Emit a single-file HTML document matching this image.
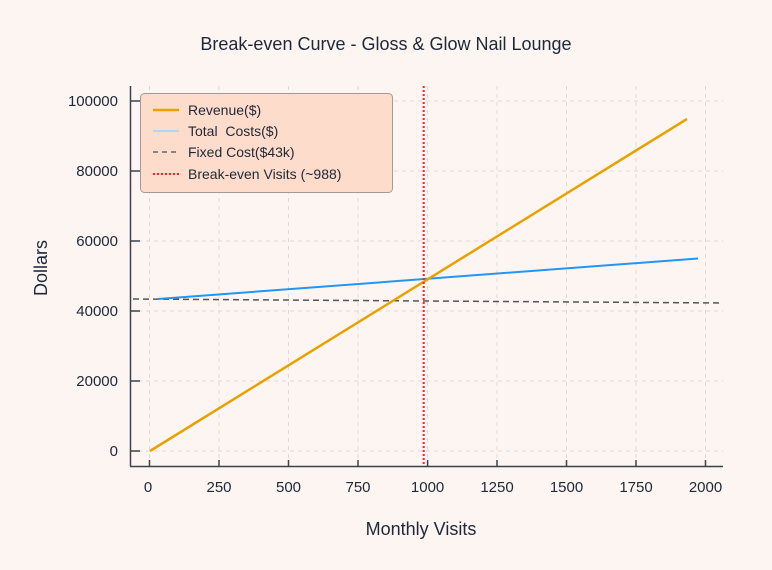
<!DOCTYPE html>
<html><head><style>body{margin:0;background:#fdf5f2}</style></head><body>
<svg width="772" height="565" xmlns="http://www.w3.org/2000/svg" font-family="Liberation Sans, sans-serif">
<rect width="772" height="565" fill="#fdf5f2"/>
<text x="386" y="50" text-anchor="middle" font-size="18" fill="#1e2838">Break-even Curve - Gloss &amp; Glow Nail Lounge</text>
<g stroke="#e6d6d2" stroke-dasharray="4,4" stroke-width="1">
<line x1="149.5" y1="86" x2="149.5" y2="466"/><line x1="219" y1="86" x2="219" y2="466"/><line x1="288.5" y1="86" x2="288.5" y2="466"/><line x1="358" y1="86" x2="358" y2="466"/><line x1="427.6" y1="86" x2="427.6" y2="466"/><line x1="497" y1="86" x2="497" y2="466"/><line x1="566.5" y1="86" x2="566.5" y2="466"/><line x1="636" y1="86" x2="636" y2="466"/><line x1="705.5" y1="86" x2="705.5" y2="466"/>
<line x1="130" y1="451" x2="723" y2="451"/><line x1="130" y1="381" x2="723" y2="381"/><line x1="130" y1="311" x2="723" y2="311"/><line x1="130" y1="241" x2="723" y2="241"/><line x1="130" y1="171" x2="723" y2="171"/><line x1="130" y1="101" x2="723" y2="101"/>
</g>
<g stroke="#3a4350" stroke-width="1.5">
<line x1="130.5" y1="86" x2="130.5" y2="466"/><line x1="130" y1="466.5" x2="723" y2="466.5"/>
<line x1="130" y1="451" x2="140" y2="451"/><line x1="130" y1="381" x2="140" y2="381"/><line x1="130" y1="311" x2="140" y2="311"/><line x1="130" y1="241" x2="140" y2="241"/><line x1="130" y1="171" x2="140" y2="171"/><line x1="130" y1="101" x2="140" y2="101"/>
<line x1="149.5" y1="460" x2="149.5" y2="466"/><line x1="219" y1="460" x2="219" y2="466"/><line x1="288.5" y1="460" x2="288.5" y2="466"/><line x1="358" y1="460" x2="358" y2="466"/><line x1="427.6" y1="460" x2="427.6" y2="466"/><line x1="497" y1="460" x2="497" y2="466"/><line x1="566.5" y1="460" x2="566.5" y2="466"/><line x1="636" y1="460" x2="636" y2="466"/><line x1="705.5" y1="460" x2="705.5" y2="466"/>
</g>
<g font-size="15" fill="#1e2838" text-anchor="end">
<text x="118" y="456">0</text><text x="118" y="386">20000</text><text x="118" y="316">40000</text><text x="118" y="246">60000</text><text x="118" y="176">80000</text><text x="118" y="106">100000</text>
</g>
<g font-size="15" fill="#1e2838" text-anchor="middle">
<text x="148" y="492">0</text><text x="219" y="492">250</text><text x="288.5" y="492">500</text><text x="358" y="492">750</text><text x="427.6" y="492">1000</text><text x="497" y="492">1250</text><text x="566.5" y="492">1500</text><text x="636" y="492">1750</text><text x="705.5" y="492">2000</text>
</g>
<text x="421" y="535" text-anchor="middle" font-size="18" fill="#1e2838">Monthly Visits</text>
<text transform="translate(47,268) rotate(-90)" text-anchor="middle" font-size="18" fill="#1e2838">Dollars</text>
<line x1="133" y1="299" x2="723" y2="303" stroke="#555" stroke-width="1.5" stroke-dasharray="6,4"/>
<line x1="158" y1="299" x2="698" y2="258.5" stroke="#2196f3" stroke-width="2"/>
<line x1="150" y1="451" x2="687" y2="119" stroke="#e8a100" stroke-width="2.5"/>
<line x1="423.7" y1="86" x2="423.7" y2="466" stroke="#ff2020" stroke-width="2" stroke-dasharray="2,2"/>
<rect x="140.5" y="93.5" width="252" height="99" rx="4" fill="#fddccb" stroke="#a09a98" stroke-width="1"/>
<line x1="153" y1="110" x2="179" y2="110" stroke="#e8a100" stroke-width="2.5"/>
<line x1="153" y1="131" x2="179" y2="131" stroke="#add8f5" stroke-width="2"/>
<line x1="153" y1="152" x2="179" y2="152" stroke="#666" stroke-width="1.5" stroke-dasharray="5,4"/>
<line x1="153" y1="174" x2="179" y2="174" stroke="#ff2020" stroke-width="2" stroke-dasharray="2,2"/>
<g font-size="14" fill="#1e2838">
<text x="188" y="115">Revenue($)</text><text x="188" y="136" xml:space="preserve">Total  Costs($)</text><text x="188" y="157">Fixed Cost($43k)</text><text x="188" y="179">Break-even Visits (~988)</text>
</g>
</svg>
</body></html>
